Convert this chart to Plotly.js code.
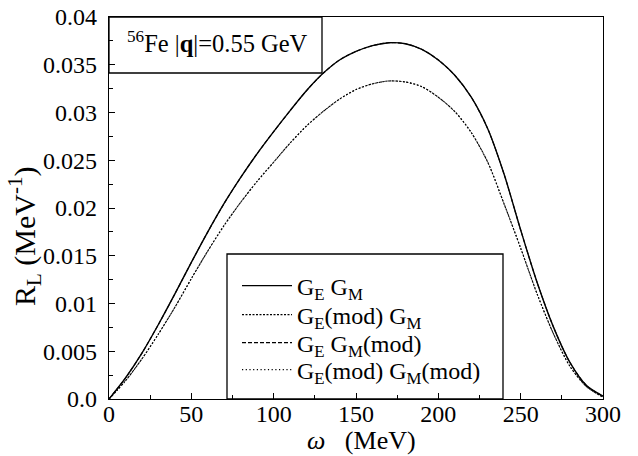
<!DOCTYPE html>
<html>
<head>
<meta charset="utf-8">
<script src="https://cdn.plot.ly/plotly-3.0.1.min.js"></script>
<style>html,body{margin:0;padding:0;background:#fff;}#chart{width:638px;height:456px;}</style>
</head>
<body>
<div id="chart"></div>
<script>
// omega (MeV)
const omega = [0,10,20,30,40,50,60,70,80,90,100,110,120,130,140,150,160,170,180,190,200,210,220,230,240,250,260,270,280,290,300];
// R_L (MeV^-1)
const rGeGm       = [0,0.0022,0.0048,0.0078,0.0110,0.0143,0.0175,0.0205,0.0232,0.0257,0.0280,0.0302,0.0323,0.0341,0.0355,0.0364,0.0370,0.0373,0.0372,0.0366,0.0355,0.0339,0.0316,0.0283,0.0235,0.0177,0.0122,0.0075,0.0038,0.0014,0.0003];
const rGeModGm    = [0,0.0019,0.0042,0.0068,0.0096,0.0126,0.0155,0.0182,0.0206,0.0228,0.0248,0.0268,0.0286,0.0301,0.0314,0.0324,0.0330,0.0333,0.0332,0.0327,0.0316,0.0301,0.0279,0.0248,0.0204,0.0158,0.0110,0.0068,0.0034,0.0013,0.0002];
const rGeGmMod    = [0,0.0022,0.0048,0.0078,0.0110,0.0143,0.0175,0.0205,0.0232,0.0257,0.0280,0.0302,0.0323,0.0341,0.0355,0.0364,0.0370,0.0373,0.0372,0.0366,0.0355,0.0339,0.0316,0.0283,0.0235,0.0177,0.0122,0.0075,0.0038,0.0014,0.0003];
const rGeModGmMod = [0,0.0019,0.0042,0.0068,0.0096,0.0126,0.0155,0.0182,0.0206,0.0228,0.0248,0.0268,0.0286,0.0301,0.0314,0.0324,0.0330,0.0333,0.0332,0.0327,0.0316,0.0301,0.0279,0.0248,0.0204,0.0158,0.0110,0.0068,0.0034,0.0013,0.0002];
const seriesNames = ['G<sub>E</sub> G<sub>M</sub>','G<sub>E</sub>(mod) G<sub>M</sub>','G<sub>E</sub> G<sub>M</sub>(mod)','G<sub>E</sub>(mod) G<sub>M</sub>(mod)'];
const yTickVals = [0,0.005,0.01,0.015,0.02,0.025,0.03,0.035,0.04];
const yTickText = ['0.0','0.005','0.01','0.015','0.02','0.025','0.03','0.035','0.04'];
const xTickVals = [0,50,100,150,200,250,300];

const F = '"Times New Roman", "Liberation Serif", Times, serif';
const legendIds = ['legend','legend2','legend3','legend4'];
const mk = (y, i, dash, w) => ({x: omega, y: y, name: seriesNames[i], type: 'scatter', mode: 'lines', legend: legendIds[i],
  line: {color: '#000', width: w, dash: dash, shape: 'spline', smoothing: 0.8}});
const data = [
  mk(rGeGm, 0, 'solid', 1.4),
  mk(rGeModGm, 1, '2px,1.5px', 1.1),
  mk(rGeGmMod, 2, '4px,2px', 1.1),
  mk(rGeModGmMod, 3, '1.2px,2.5px', 1.1)
];
const rowY = [286, 315, 343, 370];
const legBase = {x: (237-109)/494, xanchor: 'left', yanchor: 'middle', bgcolor: 'rgba(0,0,0,0)', borderwidth: 0,
  font: {family: F, size: 24, color: '#000'}, itemwidth: 50};
const layout = {
  width: 638, height: 456,
  margin: {l: 109, r: 35, t: 17, b: 57},
  paper_bgcolor: '#fff', plot_bgcolor: '#fff',
  font: {family: F, size: 24, color: '#000'},
  showlegend: true,
  legend: Object.assign({}, legBase, {y: (399-rowY[0])/382}),
  legend2: Object.assign({}, legBase, {y: (399-rowY[1])/382}),
  legend3: Object.assign({}, legBase, {y: (399-rowY[2])/382}),
  legend4: Object.assign({}, legBase, {y: (399-rowY[3])/382}),
  xaxis: {range: [0, 300], tickvals: xTickVals, ticks: 'inside', ticklen: 6, tickwidth: 1, tickcolor: '#000',
    minor: {dtick: 25, ticks: 'inside', ticklen: 4, tickcolor: '#000'},
    showline: true, linecolor: '#000', linewidth: 1.3, mirror: true, showgrid: false, zeroline: false,
    tickfont: {family: F, size: 24}, ticklabelstandoff: -7},
  yaxis: {range: [0, 0.04], tickvals: yTickVals, ticktext: yTickText, ticks: 'inside', ticklen: 6, tickwidth: 1, tickcolor: '#000',
    minor: {dtick: 0.0025, ticks: 'inside', ticklen: 4, tickcolor: '#000'},
    showline: true, linecolor: '#000', linewidth: 1.3, mirror: true, showgrid: false, zeroline: false,
    tickfont: {family: F, size: 24}, ticklabelstandoff: 6},
  shapes: [
    {type: 'rect', xref: 'paper', yref: 'paper', x0: 0, x1: (322-109)/494, y0: (399-73)/382, y1: 1, line: {color: '#000', width: 1.3}, fillcolor: 'rgba(0,0,0,0)'},
    {type: 'rect', xref: 'paper', yref: 'paper', x0: (227-109)/494, x1: (503-109)/494, y0: 0, y1: (399-254)/382, line: {color: '#000', width: 1.3}, fillcolor: 'rgba(0,0,0,0)'}
  ],
  annotations: [
    {xref: 'paper', yref: 'paper', x: (217-109)/494, y: (399-42)/382, xanchor: 'center', yanchor: 'middle', showarrow: false,
      text: '<sup>56</sup>Fe |<b>q</b>|=0.55 GeV', font: {family: F, size: 24.5}},
    {xref: 'paper', yref: 'paper', x: (24-109)/494, y: (399-236)/382, xanchor: 'center', yanchor: 'middle', showarrow: false, textangle: -90,
      text: 'R<sub>L</sub> (MeV<sup>-1</sup>)', font: {family: F, size: 30}},
    {xref: 'paper', yref: 'paper', x: (361-109)/494, y: (399-440)/382, xanchor: 'center', yanchor: 'middle', showarrow: false,
      text: '<i>ω</i>\u00a0\u00a0\u00a0(MeV)', font: {family: F, size: 26}}
  ]
};
Plotly.newPlot('chart', data, layout, {staticPlot: true, displayModeBar: false});
</script>
</body>
</html>
